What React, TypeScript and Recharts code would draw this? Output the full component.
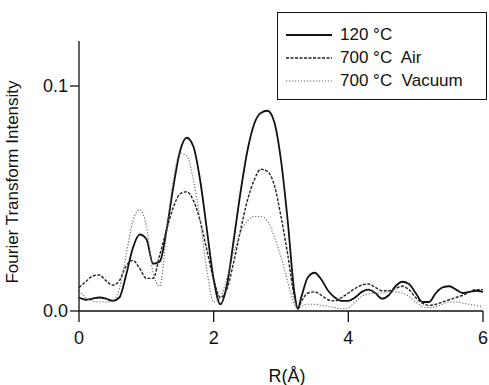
import React from "react";
import { LineChart, Line, XAxis, YAxis, Legend, Label } from "recharts";

const rValues = [0, 0.1, 0.2, 0.3, 0.4, 0.5, 0.6, 0.7, 0.8, 0.9, 1.0, 1.1, 1.2, 1.3, 1.4, 1.5, 1.6, 1.7, 1.8, 1.9, 2.0, 2.1, 2.2, 2.3, 2.4, 2.5, 2.6, 2.7, 2.8, 2.9, 3.0, 3.1, 3.2, 3.25, 3.3, 3.4, 3.5, 3.6, 3.7, 3.8, 3.9, 4.0, 4.1, 4.2, 4.3, 4.4, 4.5, 4.6, 4.7, 4.8, 4.9, 5.0, 5.1, 5.2, 5.3, 5.4, 5.5, 5.6, 5.7, 5.8, 5.9, 6.0];

const s120C = [0.006, 0.005, 0.0055, 0.006, 0.0055, 0.0045, 0.006, 0.016, 0.028, 0.034, 0.032, 0.021, 0.022, 0.036, 0.055, 0.071, 0.077, 0.073, 0.058, 0.036, 0.014, 0.003, 0.012, 0.032, 0.053, 0.071, 0.083, 0.088, 0.089, 0.084, 0.067, 0.04, 0.008, 0.001, 0.006, 0.015, 0.017, 0.014, 0.009, 0.006, 0.0045, 0.0045, 0.006, 0.0085, 0.0095, 0.008, 0.0055, 0.007, 0.011, 0.013, 0.012, 0.008, 0.004, 0.004, 0.008, 0.0105, 0.011, 0.0095, 0.008, 0.0085, 0.009, 0.0085];

const s700Air = [0.0105, 0.013, 0.0155, 0.016, 0.0135, 0.0115, 0.0135, 0.02, 0.0225, 0.019, 0.0145, 0.0145, 0.025, 0.036, 0.046, 0.052, 0.053, 0.049, 0.04, 0.027, 0.014, 0.006, 0.01, 0.022, 0.036, 0.049, 0.058, 0.063, 0.062, 0.056, 0.042, 0.025, 0.006, 0.001, 0.004, 0.008, 0.0085, 0.007, 0.005, 0.0045, 0.006, 0.008, 0.01, 0.0115, 0.012, 0.0105, 0.009, 0.009, 0.01, 0.011, 0.0095, 0.006, 0.0035, 0.0025, 0.003, 0.004, 0.005, 0.006, 0.007, 0.0085, 0.0095, 0.0095];

const s700Vacuum = [0.009, 0.006, 0.0045, 0.004, 0.004, 0.0045, 0.01, 0.025, 0.04, 0.045, 0.038, 0.017, 0.011, 0.035, 0.058, 0.07, 0.069, 0.058, 0.04, 0.018, 0.004, 0.006, 0.015, 0.026, 0.035, 0.04, 0.042, 0.042, 0.04, 0.033, 0.024, 0.013, 0.003, 0.0005, 0.002, 0.003, 0.003, 0.0025, 0.002, 0.0015, 0.001, 0.0015, 0.004, 0.0065, 0.0075, 0.008, 0.008, 0.0085, 0.0085, 0.008, 0.0065, 0.004, 0.002, 0.0015, 0.002, 0.003, 0.004, 0.004, 0.0035, 0.003, 0.0025, 0.002];

const seriesNames = ["120 °C", "700 °C  Air", "700 °C  Vacuum"];
const xTicks = [0, 2, 4, 6];
const yTicks = [0, 0.1];

const data = rValues.map((r, i) => ({
  r,
  a: s120C[i],
  b: s700Air[i],
  c: s700Vacuum[i],
}));

const FONT = "'Liberation Sans', Arial, sans-serif";

const styles = [
  { key: "a", stroke: "#111", width: 1.8, dash: undefined as string | undefined },
  { key: "b", stroke: "#222", width: 1.4, dash: "3 1.5" },
  { key: "c", stroke: "#666", width: 1.1, dash: "1.2 1.8" },
];

const LegendBox = () => (
  <div
    style={{
      border: "1.5px solid #111",
      width: 210,
      height: 88,
      boxSizing: "border-box",
      padding: "10px 0 0 8px",
      fontFamily: FONT,
      fontSize: 17,
      color: "#111",
      background: "#fff",
    }}
  >
    {seriesNames.map((n, i) => (
      <div key={n} style={{ display: "flex", alignItems: "center", height: 23 }}>
        <svg width={46} height={10} style={{ marginRight: 8 }}>
          <line
            x1={0}
            y1={5}
            x2={46}
            y2={5}
            stroke={styles[i].stroke}
            strokeWidth={styles[i].width}
            strokeDasharray={styles[i].dash}
          />
        </svg>
        <span style={{ whiteSpace: "pre" }}>{n}</span>
      </div>
    ))}
  </div>
);

export default function App() {
  return (
    <div style={{ position: "absolute", left: 0, top: 0 }}>
      <LineChart
        width={489}
        height={385}
        data={data}
        margin={{ top: 41, right: 6, bottom: 24, left: 0 }}
      >
        <XAxis
          dataKey="r"
          type="number"
          domain={[0, 6]}
          ticks={xTicks}
          tickLine={{ stroke: "#111", strokeWidth: 1.3 }}
          axisLine={{ stroke: "#111", strokeWidth: 1.3 }}
          tickSize={11}
          tickMargin={9}
          tick={{ fill: "#111", fontSize: 18, fontFamily: FONT }}
          height={50}
        >
          <Label
            content={() => (
              <text x={287} y={382} textAnchor="middle" fontSize={18} fontFamily={FONT} fill="#111">
                R(Å)
              </text>
            )}
          />
        </XAxis>
        <YAxis
          type="number"
          domain={[0, 0.12]}
          ticks={yTicks}
          tickFormatter={(v: number) => v.toFixed(1)}
          tickLine={{ stroke: "#111", strokeWidth: 1.3 }}
          axisLine={{ stroke: "#111", strokeWidth: 1.3 }}
          tickSize={9}
          tick={{ fill: "#111", fontSize: 18, fontFamily: FONT }}
          width={79}
        >
          <Label
            content={() => (
              <text
                x={18}
                y={182}
                textAnchor="middle"
                fontSize={17}
                fontFamily={FONT}
                fill="#111"
                transform="rotate(-90 18 182)"
              >
                Fourier Transform Intensity
              </text>
            )}
          />
        </YAxis>
        <Legend
          content={() => <LegendBox />}
          layout="vertical"
          align="center"
          verticalAlign="middle"
          wrapperStyle={{ top: 12, left: 277, width: 210, height: 88 }}
        />
        {styles.map((s, i) => (
          <Line
            key={s.key}
            dataKey={s.key}
            name={seriesNames[i]}
            type="monotone"
            stroke={s.stroke}
            strokeWidth={s.width}
            strokeDasharray={s.dash}
            dot={false}
            activeDot={false}
            isAnimationActive={false}
          />
        ))}
      </LineChart>
    </div>
  );
}
